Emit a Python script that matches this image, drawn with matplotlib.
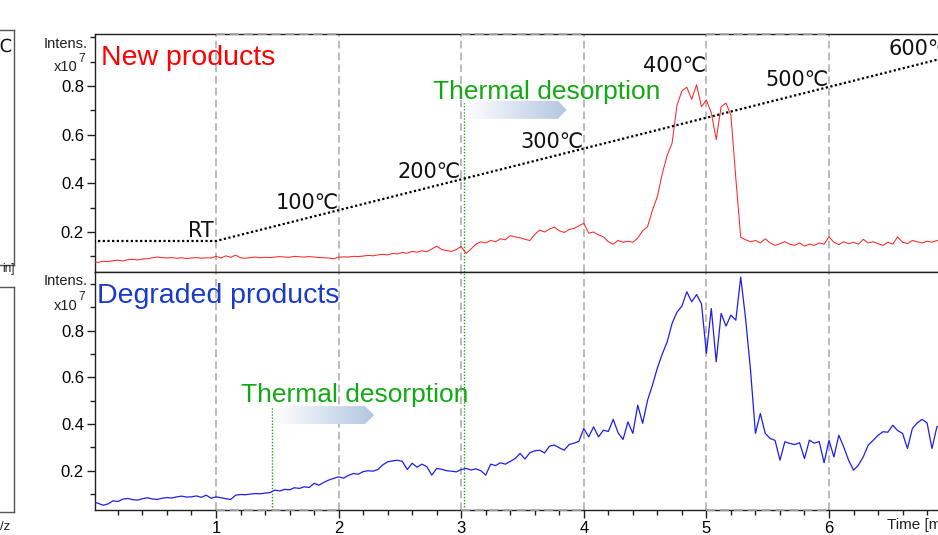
import numpy as np
import matplotlib
matplotlib.use("Agg")
import matplotlib.pyplot as plt
from matplotlib.colors import LinearSegmentedColormap
from matplotlib.patches import Polygon
from matplotlib.ticker import FixedLocator, MultipleLocator

# retention time grid [min], one sample every 0.04 min
time_min = np.round(np.arange(0, 6.93, 0.04), 2)

# ion intensity of the new products [x10^7]
new_products = [
    0.077, 0.075, 0.080, 0.078, 0.082, 0.084, 0.081, 0.086, 0.088, 0.085, 0.089, 0.090, 0.094,
    0.097, 0.095, 0.093, 0.095, 0.092, 0.094, 0.091, 0.093, 0.095, 0.092, 0.094, 0.093,
    0.100, 0.093, 0.102, 0.096, 0.105, 0.094, 0.092, 0.095, 0.097, 0.094, 0.096, 0.095, 0.097,
    0.099, 0.097, 0.096, 0.100, 0.098, 0.097, 0.099, 0.097, 0.095, 0.094, 0.093, 0.090,
    0.096, 0.098, 0.097, 0.100, 0.099, 0.101, 0.104, 0.102, 0.106, 0.108, 0.106, 0.112, 0.110,
    0.116, 0.113, 0.120, 0.117, 0.123, 0.119, 0.130, 0.142, 0.128, 0.124, 0.120, 0.128,
    0.140, 0.112, 0.130, 0.150, 0.160, 0.155, 0.165, 0.160, 0.172, 0.168, 0.185, 0.180, 0.176,
    0.170, 0.165, 0.190, 0.208, 0.200, 0.212, 0.220, 0.205, 0.198, 0.210, 0.215, 0.225,
    0.236, 0.195, 0.200, 0.188, 0.180, 0.160, 0.150, 0.165, 0.158, 0.162, 0.158, 0.175, 0.205,
    0.222, 0.290, 0.345, 0.440, 0.515, 0.565, 0.720, 0.780, 0.795, 0.745, 0.805, 0.715,
    0.742, 0.690, 0.580, 0.715, 0.730, 0.680, 0.420, 0.178, 0.168, 0.160, 0.165, 0.155, 0.172,
    0.155, 0.145, 0.152, 0.160, 0.150, 0.145, 0.155, 0.142, 0.150, 0.145, 0.155, 0.150,
    0.180, 0.158, 0.148, 0.160, 0.152, 0.158, 0.150, 0.170, 0.155, 0.160, 0.152, 0.145, 0.158,
    0.150, 0.180, 0.158, 0.152, 0.165, 0.160, 0.155, 0.162, 0.158, 0.165, 0.160,
]

# ion intensity of the degraded products [x10^7]
degraded_products = [
    0.067, 0.060, 0.052, 0.058, 0.071, 0.068, 0.078, 0.081, 0.076, 0.074, 0.080, 0.084, 0.079,
    0.077, 0.082, 0.085, 0.083, 0.088, 0.091, 0.087, 0.088, 0.092, 0.086, 0.095, 0.082,
    0.088, 0.084, 0.080, 0.077, 0.095, 0.098, 0.097, 0.100, 0.102, 0.101, 0.104, 0.106, 0.117,
    0.113, 0.120, 0.118, 0.127, 0.124, 0.131, 0.128, 0.146, 0.138, 0.150, 0.160, 0.167,
    0.174, 0.168, 0.180, 0.188, 0.185, 0.196, 0.200, 0.198, 0.205, 0.225, 0.238, 0.242, 0.245,
    0.240, 0.205, 0.232, 0.215, 0.228, 0.217, 0.181, 0.210, 0.206, 0.200, 0.198, 0.195,
    0.205, 0.210, 0.203, 0.208, 0.200, 0.181, 0.228, 0.222, 0.234, 0.228, 0.240, 0.252, 0.274,
    0.250, 0.277, 0.285, 0.288, 0.276, 0.305, 0.310, 0.298, 0.288, 0.312, 0.318, 0.326,
    0.381, 0.345, 0.388, 0.345, 0.374, 0.368, 0.420, 0.362, 0.334, 0.409, 0.360, 0.481, 0.403,
    0.502, 0.567, 0.640, 0.700, 0.752, 0.831, 0.880, 0.905, 0.967, 0.924, 0.955, 0.915,
    0.703, 0.895, 0.667, 0.874, 0.820, 0.867, 0.845, 1.030, 0.850, 0.630, 0.360, 0.445, 0.360,
    0.338, 0.330, 0.245, 0.324, 0.317, 0.312, 0.320, 0.252, 0.331, 0.318, 0.325, 0.234,
    0.330, 0.259, 0.352, 0.302, 0.245, 0.202, 0.224, 0.260, 0.310, 0.330, 0.352, 0.367, 0.365,
    0.395, 0.372, 0.360, 0.295, 0.381, 0.405, 0.420, 0.405, 0.295, 0.388, 0.400,
]

# oven temperature programme, drawn on the intensity scale of the upper trace
ramp_time = [0.0, 1.0, 7.0]
ramp_level = [0.163, 0.163, 0.923]
temp_labels = ["RT", "100℃", "200℃", "300℃", "400℃", "500℃", "600℃"]
temp_label_time = [0.98, 2, 3, 4, 5, 6, 7]
temp_label_lift = [0.012, 0, 0, 0, 0.184, 0, 0]

# dashed one-minute boxes and thermal desorption start
box_spans = [(1, 2), (3, 4), (5, 6)]
desorption_start_new = 3.02
desorption_start_deg = 1.455

W, H = 938, 535
SANS = "Liberation Sans"
GREY = "#A8A8A8"
GREEN = "#12AA12"


def px_box(x0, y0, x1, y1):
    return [x0 / W, 1 - y1 / H, (x1 - x0) / W, (y1 - y0) / H]


fig = plt.figure(figsize=(W / 100, H / 100), dpi=100)
fig.patch.set_facecolor("white")

ax_top = fig.add_axes(px_box(95, 34, 951.6, 272))
ax_bot = fig.add_axes(px_box(95, 272, 951.6, 510))

ylims = {ax_top: (0.0356, 1.0137), ax_bot: (0.0316, 1.0516)}

for ax in (ax_top, ax_bot):
    ax.set_xlim(0.013, 7.0)
    ax.set_ylim(*ylims[ax])
    ax.spines["right"].set_visible(False)
    for s in ("left", "top", "bottom"):
        ax.spines[s].set_linewidth(1.0)
        ax.spines[s].set_color("#202020")
    ax.yaxis.set_major_locator(FixedLocator([0.2, 0.4, 0.6, 0.8]))
    ax.yaxis.set_minor_locator(FixedLocator([0.1, 0.3, 0.5, 0.7, 0.9, 1.0]))
    ax.tick_params(axis="y", which="major", direction="out", length=6, width=1,
                   color="#202020", pad=2)
    ax.tick_params(axis="y", which="minor", direction="out", length=3.5, width=1,
                   color="#202020")
    for lab in ax.get_yticklabels():
        lab.set_family(SANS)
        lab.set_fontsize(12)
    for t in range(1, 7):
        ax.axvline(t, color=GREY, lw=1.1, dashes=(5, 2.7), zorder=1)

ax_top.tick_params(axis="x", which="both", bottom=False, labelbottom=False)
ax_bot.xaxis.set_major_locator(FixedLocator([1, 2, 3, 4, 5, 6]))
ax_bot.xaxis.set_minor_locator(MultipleLocator(0.2))
ax_bot.tick_params(axis="x", which="major", direction="out", length=6, width=1,
                   color="#202020", pad=2)
ax_bot.tick_params(axis="x", which="minor", direction="out", length=3.5, width=1,
                   color="#202020")
for lab in ax_bot.get_xticklabels():
    lab.set_family(SANS)
    lab.set_fontsize(12)

# dashed box edges along the outer frame
for a, b in box_spans:
    ax_top.hlines(ylims[ax_top][1], a, b, color=GREY, lw=1.3, linestyles=(0, (5, 2.7)),
                  clip_on=False, zorder=5)
    ax_bot.hlines(ylims[ax_bot][0], a, b, color=GREY, lw=1.3, linestyles=(0, (5, 2.7)),
                  clip_on=False, zorder=5)

# traces
ax_top.plot(time_min, new_products, color="#FF2626", lw=0.75, zorder=3)
ax_bot.plot(time_min, degraded_products, color="#1E1EF0", lw=0.9, zorder=3)

# temperature programme
ax_top.plot(ramp_time, ramp_level, color="black", lw=1.6, dashes=(1, 1.1), zorder=4)
for lab, t, lift in zip(temp_labels, temp_label_time, temp_label_lift):
    y = np.interp(min(t, 7.0), ramp_time, ramp_level) + lift
    ax_top.text(t, y + 0.004, lab, ha="right", va="baseline", fontsize=15,
                family="DejaVu Sans", color="#111111", zorder=6, clip_on=False)

# thermal desorption markers
ax_top.axvline(desorption_start_new, ymin=0, ymax=(0.74 - 0.0356) / (1.0137 - 0.0356),
               color=GREEN, lw=1.0, dashes=(1, 1.2), zorder=2)
ax_bot.axvline(desorption_start_new, color=GREEN, lw=1.0, dashes=(1, 1.2), zorder=2)
ax_bot.axvline(desorption_start_deg, ymin=0, ymax=(0.477 - 0.0316) / (1.0516 - 0.0316),
               color=GREEN, lw=1.0, dashes=(1, 1.2), zorder=2)

arrow_cmap = LinearSegmentedColormap.from_list("arrow", ["#FFFFFF", "#B3C6E0"])
gradient = np.linspace(0, 1, 256).reshape(1, -1)


def gradient_arrow(ax, x0, x1, y0, y1, head):
    ym = (y0 + y1) / 2
    poly = Polygon([(x0, y0), (x1 - head, y0), (x1, ym), (x1 - head, y1), (x0, y1)],
                   closed=True, facecolor="none", edgecolor="none")
    ax.add_patch(poly)
    im = ax.imshow(gradient, cmap=arrow_cmap, aspect="auto", extent=[x0, x1, y0, y1],
                   zorder=2, interpolation="bilinear")
    im.set_clip_path(poly)


gradient_arrow(ax_top, 3.03, 3.86, 0.665, 0.739, 0.07)
gradient_arrow(ax_bot, 1.465, 2.29, 0.400, 0.477, 0.075)

ax_top.text(2.766, 0.745, "Thermal desorption", color=GREEN, fontsize=19,
            family=SANS, va="baseline", ha="left", zorder=6)
ax_bot.text(1.204, 0.495, "Thermal desorption", color=GREEN, fontsize=19,
            family=SANS, va="baseline", ha="left", zorder=6)

ax_top.text(0.062, 0.886, "New products", color="#FF0000", fontsize=20.5,
            family=SANS, va="baseline", ha="left", zorder=6)
ax_bot.text(0.03, 0.917, "Degraded products", color="#1A3ACC", fontsize=20.5,
            family=SANS, va="baseline", ha="left", zorder=6)

for ax in (ax_top, ax_bot):
    ax.set_xlim(0.013, 7.0)
    ax.set_ylim(*ylims[ax])

# axis captions
for y_int, y_x, y_sup in ((44, 67, 59), (281, 305.5, 297)):
    fig.text(88 / W, 1 - y_int / H, "Intens.", ha="right", va="center",
             family=SANS, fontsize=10.5, color="#202020")
    fig.text(78 / W, 1 - y_x / H, "x10", ha="right", va="center",
             family=SANS, fontsize=10.5, color="#202020")
    fig.text(78 / W, 1 - y_sup / H, "7", ha="left", va="center",
             family=SANS, fontsize=8.5, color="#202020")
fig.text(887 / W, 1 - 525 / H, "Time [min]", ha="left", va="center",
         family=SANS, fontsize=11, color="#202020")

# neighbouring panel cut off at the left edge
for box in ((-60, 30, 14, 265), (-60, 287, 14, 512)):
    fr = fig.add_axes(px_box(*box))
    fr.set_xticks([])
    fr.set_yticks([])
    for s in fr.spines.values():
        s.set_color("#555555")
        s.set_linewidth(1.0)
fig.text(13 / W, 1 - 47 / H, "0℃", ha="right", va="center", family="DejaVu Sans",
         fontsize=13, color="#111111")
fig.text(15 / W, 1 - 269 / H, "in]", ha="right", va="center", family=SANS,
         fontsize=8.5, color="#202020")
fig.text(0, 1 - 527 / H, "/z", ha="left", va="center", family=SANS,
         fontsize=9.5, color="#202020")

fig.savefig("out.png", dpi=100, facecolor="white")
